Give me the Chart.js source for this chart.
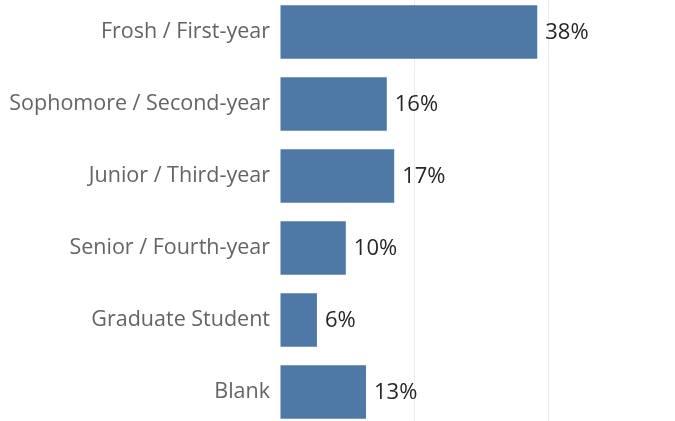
<!DOCTYPE html>
<html>
<head>
<meta charset="utf-8">
<script src="https://cdn.jsdelivr.net/npm/chart.js@4"></script>
<style>
  html, body { margin: 0; padding: 0; background: #fff; overflow: hidden; width: 675px; height: 421px; }
  #barChart { position: absolute; left: 0; top: -4px; }
</style>
</head>
<body>
<canvas id="barChart" width="683" height="432"></canvas>
<script>
const categories = ['Frosh / First-year', 'Sophomore / Second-year', 'Junior / Third-year', 'Senior / Fourth-year', 'Graduate Student', 'Blank'];
const shares = [38.3, 15.9, 17.0, 9.8, 5.5, 12.8];
const xTicks = [0, 20, 40, 60];

// etiquetas de valor al final de cada barra
const valueLabels = {
  id: 'valueLabels',
  afterDatasetsDraw(chart) {
    const c = chart.ctx;
    const meta = chart.getDatasetMeta(0);
    c.save();
    c.font = '22px "Open Sans"';
    c.fillStyle = '#262626';
    c.textBaseline = 'middle';
    c.textAlign = 'left';
    meta.data.forEach((bar, i) => {
      c.fillText(Math.round(shares[i]) + '%', bar.x + 8, bar.y + 1);
    });
    c.restore();
  }
};

const ctx = document.getElementById('barChart');
new Chart(ctx, {
  type: 'bar',
  data: {
    labels: categories,
    datasets: [{
      data: shares,
      backgroundColor: '#4e79a7',
      barPercentage: 0.74,
      categoryPercentage: 1
    }]
  },
  options: {
    indexAxis: 'y',
    responsive: false,
    animation: false,
    layout: { padding: 0 },
    plugins: {
      legend: { display: false },
      tooltip: { enabled: false }
    },
    scales: {
      x: {
        min: xTicks[0],
        max: xTicks[xTicks.length - 1],
        afterFit: (scale) => { scale.height = 0; scale.paddingLeft = 0; scale.paddingRight = 0; },
        ticks: { display: false, stepSize: 20 },
        border: { display: false },
        grid: {
          drawTicks: false,
          color: (c) => c.tick && c.tick.value === 0 ? 'rgba(0,0,0,0)' : '#ececec'
        }
      },
      y: {
        afterFit: (scale) => { scale.width = 280; scale.paddingTop = 0; scale.paddingBottom = 0; },
        border: { display: false },
        grid: { display: false, drawTicks: false },
        ticks: {
          color: '#646464',
          padding: 10,
          font: { family: '"Open Sans"', size: 21.5 }
        }
      }
    }
  },
  plugins: [valueLabels]
});
</script>
</body>
</html>
